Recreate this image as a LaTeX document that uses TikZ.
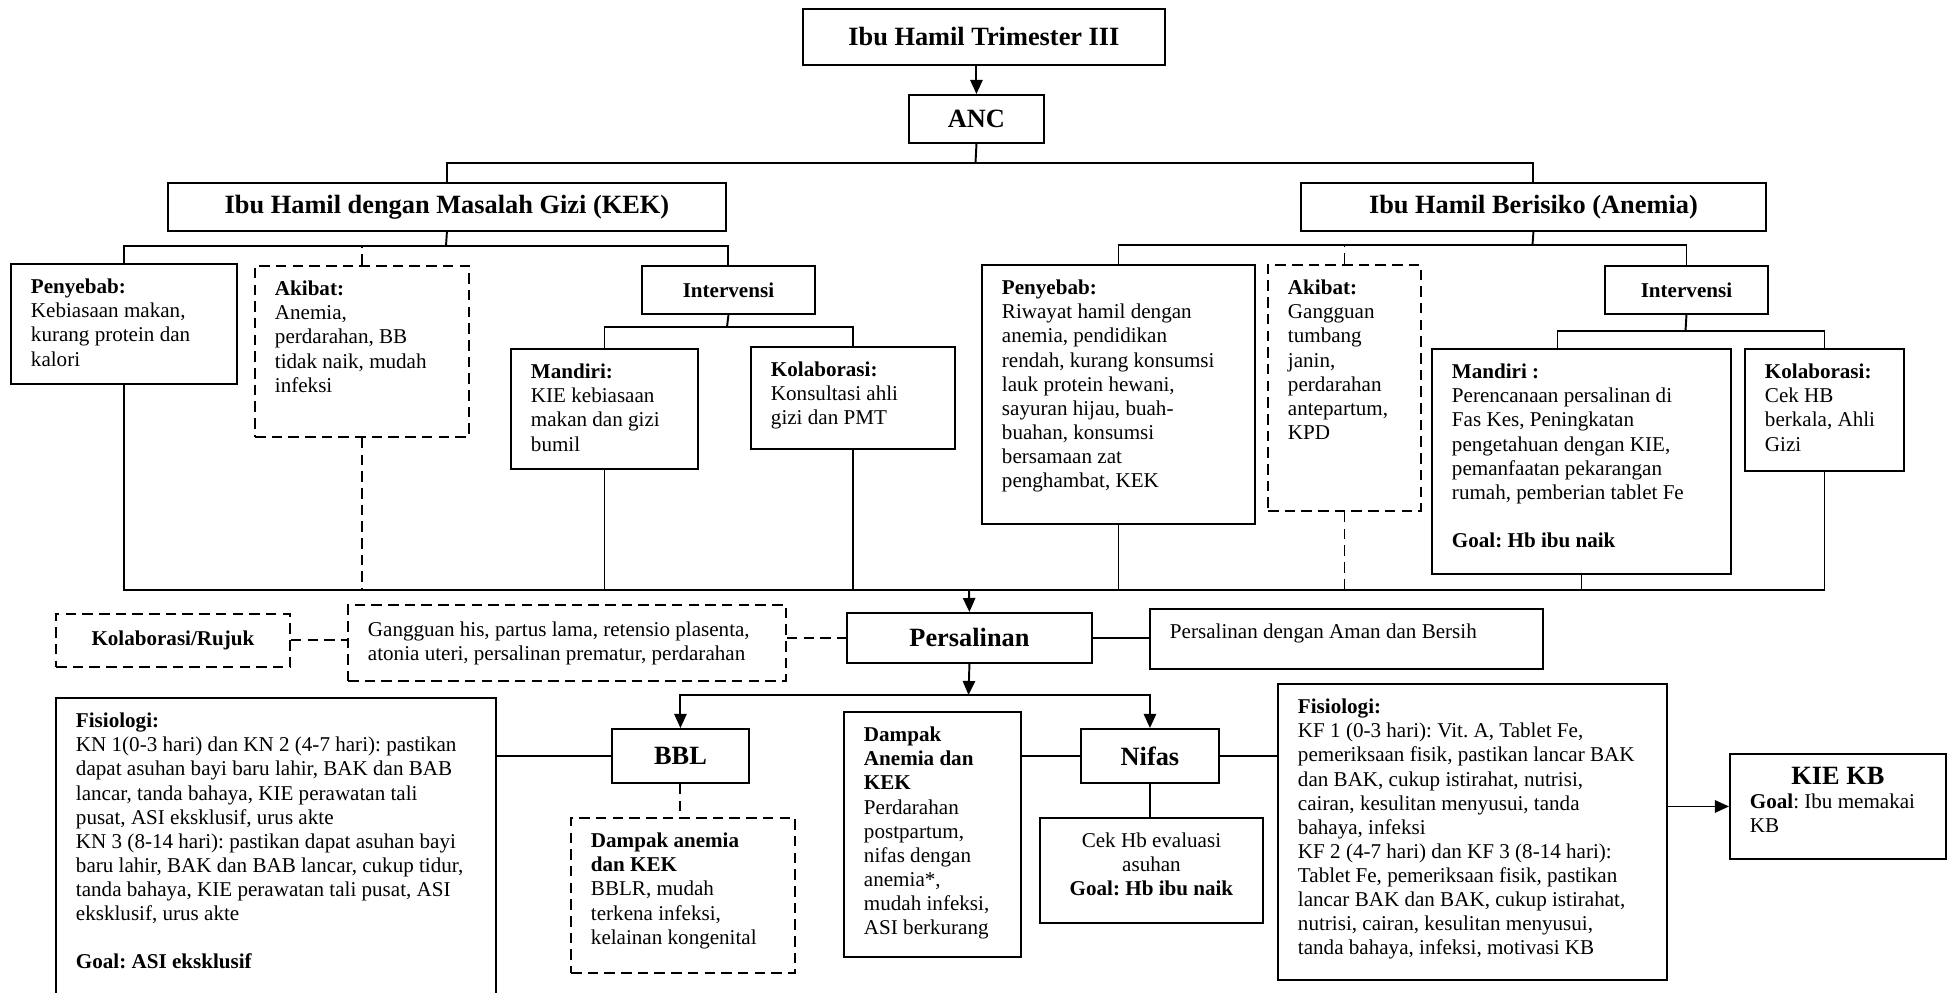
\documentclass[tikz,border=0pt]{standalone}
\usepackage{fontspec}
\setmainfont{Liberation Serif}
\usetikzlibrary{arrows.meta}
\frenchspacing

% kotak teks rata atas (lebar dan tinggi dalam px)
\newcommand{\freecell}[3]{\parbox[t][\dimexpr 0.02cm*#2-0.52cm\relax][t]{\dimexpr 0.02cm*#1-0.8cm\relax}{#3}}
\newcommand{\txtcell}[3]{\freecell{#1}{#2}{\begin{tabular}[t]{@{}l@{}}#3\end{tabular}}}
\newcommand{\ctxtcell}[3]{\freecell{#1}{#2}{\centering\begin{tabular}[t]{@{}c@{}}#3\end{tabular}}}

\begin{document}
\begin{tikzpicture}[
    x=0.02cm, y=-0.02cm,
    line width=1.1pt,
    every node/.style={font=\fontsize{12}{13.7}\selectfont},
    head/.style={
        draw,
        anchor=north west,
        inner sep=0pt,
        font=\fontsize{15}{18}\selectfont\bfseries
    },
    subhead/.style={
        head,
        font=\fontsize{12}{13.7}\selectfont\bfseries
    },
    textbox/.style={
        draw,
        anchor=north west,
        inner xsep=0.4cm,
        inner ysep=0.26cm
    },
    dline/.style={
        dash pattern=on 6pt off 3.5pt
    },
    arrow/.style={
        ->,
        >={Triangle[length=8pt, width=7pt]}
    }
]
\useasboundingbox (0,0) rectangle (1951,993);

% Puncak
\node[head, minimum width=7.24cm, minimum height=1.12cm] (trim) at (802,8) {Ibu Hamil Trimester III};
\node[head, minimum width=2.70cm, minimum height=0.96cm] (anc) at (908,94) {ANC};
\node[head, minimum width=11.16cm, minimum height=0.96cm] (kek) at (167,182) {Ibu Hamil dengan Masalah Gizi (KEK)};
\node[head, minimum width=9.30cm, minimum height=0.96cm] (anemia) at (1300,182) {Ibu Hamil Berisiko (Anemia)};

% Cabang KEK
\node[textbox] (kekpenyebab) at (10,263) {\txtcell{226}{120}{\textbf{Penyebab:}\\Kebiasaan makan,\\kurang protein dan\\kalori}};
\node[textbox, dline] (kekakibat) at (254,265) {\txtcell{214}{171}{\textbf{Akibat:}\\Anemia,\\perdarahan, BB\\tidak naik, mudah\\infeksi}};
\node[subhead, minimum width=3.46cm, minimum height=0.96cm] (kekintervensi) at (641,265) {Intervensi};
\node[textbox] (kekmandiri) at (510,348) {\txtcell{187}{120}{\textbf{Mandiri:}\\KIE kebiasaan\\makan dan gizi\\bumil}};
\node[textbox] (kekkolab) at (750,346) {\txtcell{204}{102}{\textbf{Kolaborasi:}\\Konsultasi ahli\\gizi dan PMT}};

% Cabang anemia
\node[textbox] (anpenyebab) at (981,264) {\txtcell{273}{259}{\textbf{Penyebab:}\\Riwayat hamil dengan\\anemia, pendidikan\\rendah, kurang konsumsi\\lauk protein hewani,\\sayuran hijau, buah-\\buahan, konsumsi\\bersamaan zat\\penghambat, KEK}};
\node[textbox, dline] (anakibat) at (1267,264) {\txtcell{153}{246}{\textbf{Akibat:}\\Gangguan\\tumbang\\janin,\\perdarahan\\antepartum,\\KPD}};
\node[subhead, minimum width=3.26cm, minimum height=0.96cm] (anintervensi) at (1604,265) {Intervensi};
\node[textbox] (anmandiri) at (1431,348) {\txtcell{299}{225}{\textbf{Mandiri :}\\Perencanaan persalinan di\\Fas Kes, Peningkatan\\pengetahuan dengan KIE,\\pemanfaatan pekarangan\\rumah, pemberian tablet Fe\\[13.7pt]\textbf{Goal: Hb ibu naik}}};
\node[textbox] (ankolab) at (1744,348) {\txtcell{159}{122}{\textbf{Kolaborasi:}\\Cek HB\\berkala, Ahli\\Gizi}};

% Persalinan
\node[subhead, dline, minimum width=4.68cm, minimum height=1.06cm] (rujuk) at (55,613) {Kolaborasi/Rujuk};
\node[textbox, dline, inner ysep=0.3cm] (gangguan) at (347,604) {\freecell{438}{72}{\begin{tabular}[t]{@{}l@{}}Gangguan his, partus lama, retensio plasenta,\\atonia uteri, persalinan prematur, perdarahan\end{tabular}}};
\node[head, minimum width=4.90cm, minimum height=1.00cm] (persalinan) at (846,612) {Persalinan};
\node[textbox] (aman) at (1149,608) {\txtcell{393}{60}{Persalinan dengan Aman dan Bersih}};

% BBL
\node[textbox] (bblfis) at (55,697) {\txtcell{440}{320}{\textbf{Fisiologi:}\\KN 1(0-3 hari) dan KN 2 (4-7 hari): pastikan\\dapat asuhan bayi baru lahir, BAK dan BAB\\lancar, tanda bahaya, KIE perawatan tali\\pusat, ASI eksklusif, urus akte\\KN 3 (8-14 hari): pastikan dapat asuhan bayi\\baru lahir, BAK dan BAB lancar, cukup tidur,\\tanda bahaya, KIE perawatan tali pusat, ASI\\eksklusif, urus akte\\[13.7pt]\textbf{Goal: ASI eksklusif}}};
\node[head, minimum width=2.74cm, minimum height=1.08cm] (bbl) at (611,728) {BBL};
\node[textbox, dline] (bbldampak) at (570,817) {\txtcell{224}{155}{\textbf{Dampak anemia}\\\textbf{dan KEK}\\BBLR, mudah\\terkena infeksi,\\kelainan kongenital}};

% Nifas
\node[textbox] (nifdampak) at (843,711) {\txtcell{177}{245}{\textbf{Dampak}\\\textbf{Anemia dan}\\\textbf{KEK}\\Perdarahan\\postpartum,\\nifas dengan\\anemia*,\\mudah infeksi,\\ASI berkurang}};
\node[head, minimum width=2.76cm, minimum height=1.08cm] (nifas) at (1080,728) {Nifas};
\node[textbox] (cekhb) at (1039,817) {\ctxtcell{223}{105}{Cek Hb evaluasi\\asuhan\\\textbf{Goal: Hb ibu naik}}};
\node[textbox] (niffis) at (1277,683) {\txtcell{389}{296}{\textbf{Fisiologi:}\\KF 1 (0-3 hari): Vit. A, Tablet Fe,\\pemeriksaan fisik, pastikan lancar BAK\\dan BAK, cukup istirahat, nutrisi,\\cairan, kesulitan menyusui, tanda\\bahaya, infeksi\\KF 2 (4-7 hari) dan KF 3 (8-14 hari):\\Tablet Fe, pemeriksaan fisik, pastikan\\lancar BAK dan BAK, cukup istirahat,\\nutrisi, cairan, kesulitan menyusui,\\tanda bahaya, infeksi, motivasi KB}};
\node[textbox] (kiekb) at (1729,753) {\freecell{216}{105}{\centering{\fontsize{15}{18}\selectfont\bfseries KIE KB}\par\raggedright\begin{tabular}[t]{@{}l@{}}\textbf{Goal}: Ibu memakai\\KB\end{tabular}}};

% Titik cabang
\coordinate (ancbus) at (975.5,163);
\coordinate (kekbus) at (446,246);
\coordinate (anbus) at (1532.5,245);
\coordinate (kekibus) at (727,327);
\coordinate (anibus) at (1685.5,331);
\coordinate (col) at (969,590);
\coordinate (pbus) at (968.5,695);

% Garis
\draw[arrow] (trim.south -| anc.north) -- (anc.north);
\draw (anc.south) -- (ancbus);
\draw (kek.north) |- (ancbus) -| (anemia.north);

\draw (kek.south) -- (kekbus);
\draw (kekpenyebab.north) |- (kekbus) -| (kekintervensi.north);
\draw[dline] (kekakibat.north) -- (kekakibat.north |- kekbus);
\draw (kekintervensi.south) -- (kekibus);
\draw (kekmandiri.north) |- (kekibus) -| (kekkolab.north);

\draw (anemia.south) -- (anbus);
\draw (anpenyebab.north) |- (anbus) -| (anintervensi.north);
\draw[dline] (anakibat.north) -- (anakibat.north |- anbus);
\draw (anintervensi.south) -- (anibus);
\draw ([xshift=-0.48cm]anmandiri.north) |- (anibus) -| (ankolab.north);

\draw (kekpenyebab.south) |- (col) -| (ankolab.south);
\draw[dline] (kekakibat.south) -- (kekakibat.south |- col);
\draw (kekmandiri.south) -- (kekmandiri.south |- col);
\draw (kekkolab.south) -- (kekkolab.south |- col);
\draw (anpenyebab.south) -- (anpenyebab.south |- col);
\draw[dline] (anakibat.south) -- (anakibat.south |- col);
\draw (anmandiri.south) -- (anmandiri.south |- col);
\draw[arrow] (col) -- (persalinan.north);

\draw[dline] (rujuk.east) -- (rujuk.east -| gangguan.west);
\draw[dline] (gangguan.east |- persalinan.west) -- (persalinan.west);
\draw (persalinan.east) -- (persalinan.east -| aman.west);

\draw[arrow] (persalinan.south) -- (pbus);
\draw[arrow] (pbus) -| (bbl.north);
\draw[arrow] (pbus) -| (nifas.north);

\draw (bbl.west) -- (bbl.west -| bblfis.east);
\draw[dline] (bbl.south) -- (bbl.south |- bbldampak.north);
\draw (nifas.west) -- (nifas.west -| nifdampak.east);
\draw (nifas.south) -- (nifas.south |- cekhb.north);
\draw (nifas.east) -- (nifas.east -| niffis.west);
\draw[arrow] (niffis.east |- kiekb.west) -- (kiekb.west);

\end{tikzpicture}
\end{document}
